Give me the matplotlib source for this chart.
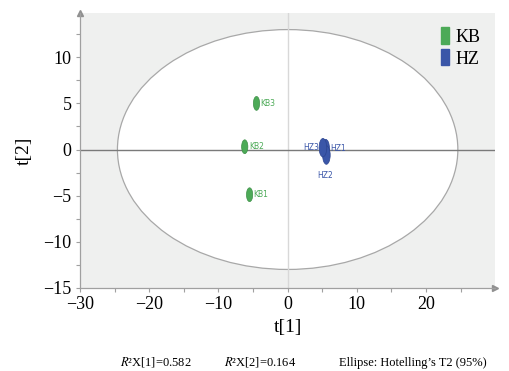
import numpy as np
import matplotlib
matplotlib.use('Agg')
import matplotlib.pyplot as plt
from matplotlib.patches import Ellipse, Patch

plt.rcParams['font.family'] = ['Liberation Serif', 'DejaVu Serif']
plt.rcParams['mathtext.fontset'] = 'stix'

# PCA scores
kb_names = ['KB1', 'KB2', 'KB3']
kb_t1 = [-5.5, -6.2, -4.5]
kb_t2 = [-4.9, 0.3, 5.0]

hz_names = ['HZ1', 'HZ2', 'HZ3']
hz_t1 = [5.5, 5.6, 5.1]
hz_t2 = [0.1, -0.6, 0.2]

# Hotelling T2 ellipse semi-axes
ell_a = 24.6
ell_b = 13.0

green = '#4caa57'
blue = '#3a56a8'

fig = plt.figure(figsize=(5.1, 3.71), dpi=100)
ax = fig.add_axes([0.157, 0.224, 0.814, 0.741])
ax.set_facecolor('#eff0ef')

ax.add_patch(Ellipse((0, 0), 2 * ell_a, 2 * ell_b, facecolor='white',
                     edgecolor='#a8a8a8', lw=0.9, zorder=1))
ax.axvline(0, color='#d8d8d8', lw=1.0, zorder=1.5)
ax.axhline(0, color='#7a7a7a', lw=1.0, zorder=1.5)

for x, y in zip(kb_t1, kb_t2):
    ax.add_patch(Ellipse((x, y), 0.9, 1.5, facecolor=green,
                         edgecolor='#3d8f47', lw=0.5, zorder=3))
for x, y in zip(hz_t1, hz_t2):
    ax.add_patch(Ellipse((x, y), 1.1, 2.0, facecolor=blue,
                         edgecolor='#2c4590', lw=0.5, zorder=3))

lab_kw = dict(fontsize=5.5, family='DejaVu Sans', va='center', zorder=4)
for name, x, y in zip(kb_names, kb_t1, kb_t2):
    ax.text(x + 0.6, y, name, color=green, ha='left', **lab_kw)
# HZ labels: HZ1 right, HZ2 below, HZ3 left
ax.text(hz_t1[0] + 0.6, hz_t2[0], hz_names[0], color=blue, ha='left', **lab_kw)
ax.text(hz_t1[1] - 0.2, hz_t2[1] - 2.2, hz_names[1], color=blue, ha='center', **lab_kw)
ax.text(hz_t1[2] - 0.6, hz_t2[2], hz_names[2], color=blue, ha='right', **lab_kw)

ax.set_xlim(-30, 30)
ax.set_ylim(-15, 14.8)
ax.set_xticks([-30, -20, -10, 0, 10, 20])
ax.set_yticks([-15, -10, -5, 0, 5, 10])
ax.set_xticks(np.arange(-25, 30, 10), minor=True)
ax.set_yticks(np.arange(-12.5, 14, 5), minor=True)
ax.set_xticklabels(['\u221230', '\u221220', '\u221210', '0', '10', '20'])
ax.set_yticklabels(['\u221215', '\u221210', '\u22125', '0', '5', '10'])
ax.tick_params(labelsize=13, colors='#a0a0a0', labelcolor='black',
               length=3, width=0.8, direction='out')
ax.tick_params(axis='x', pad=3)
ax.tick_params(axis='y', pad=3)
ax.tick_params(which='minor', colors='#a0a0a0', length=3, width=0.8)

for s in ['top', 'right']:
    ax.spines[s].set_visible(False)
for s in ['left', 'bottom']:
    ax.spines[s].set_color('#a0a0a0')
    ax.spines[s].set_linewidth(0.9)

# axis arrows
ax.plot(1, 0, '>', color='#909090', ms=5, transform=ax.transAxes, clip_on=False)
ax.plot(0, 1, '^', color='#909090', ms=5, transform=ax.transAxes, clip_on=False)

ax.set_xlabel('t[1]', fontsize=14, labelpad=4)
ax.set_ylabel('t[2]', fontsize=14, labelpad=8)

leg = ax.legend(handles=[Patch(color=green, label='KB'), Patch(color=blue, label='HZ')],
                loc='upper right', frameon=False, fontsize=13,
                handlelength=0.45, handleheight=1.0, handletextpad=0.35,
                labelspacing=0.2, borderaxespad=0.4)

fig.text(0.235, 0.014, r'$R$' + '\u00b2X[1]=0.582', fontsize=9)
fig.text(0.44, 0.014, r'$R$' + '\u00b2X[2]=0.164', fontsize=9)
fig.text(0.665, 0.014, 'Ellipse: Hotelling\u2019s T2 (95%)', fontsize=9)

fig.savefig('out.png', dpi=100)
